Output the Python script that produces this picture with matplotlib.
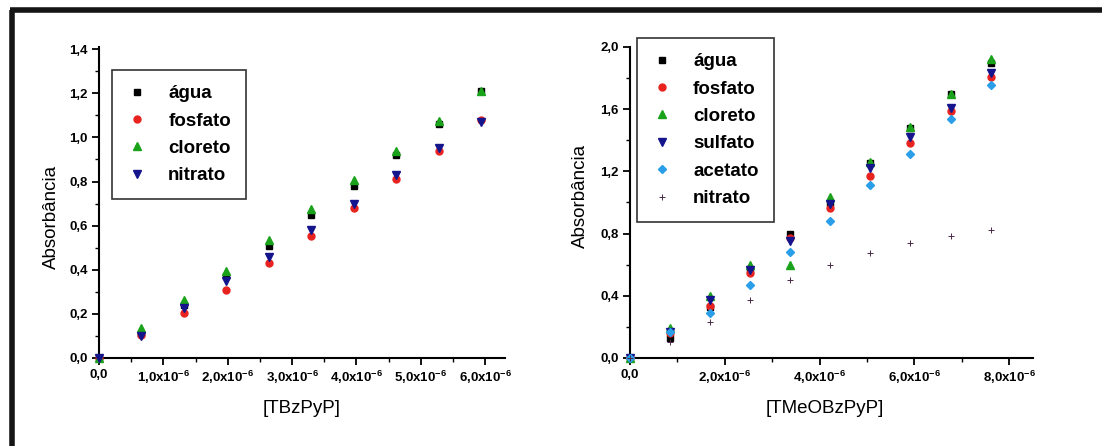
import numpy as np
import matplotlib
matplotlib.use("Agg")
import matplotlib.pyplot as plt
from matplotlib.lines import Line2D
from matplotlib.ticker import MultipleLocator, FuncFormatter

plt.rcParams['font.family'] = ['Liberation Sans', 'DejaVu Sans']
plt.rcParams['mathtext.fontset'] = 'custom'
plt.rcParams['mathtext.rm'] = 'Liberation Sans'
plt.rcParams['mathtext.bf'] = 'Liberation Sans:bold'

# TBzPyP titration (mol/L)
conc_tbz = [0, 0.66e-6, 1.32e-6, 1.98e-6, 2.64e-6, 3.30e-6, 3.96e-6, 4.62e-6, 5.28e-6, 5.94e-6]
tbz_agua = [0, 0.11, 0.24, 0.37, 0.51, 0.65, 0.78, 0.92, 1.06, 1.21]
tbz_fosfato = [0, 0.105, 0.205, 0.31, 0.43, 0.555, 0.68, 0.81, 0.94, 1.08]
tbz_cloreto = [0, 0.135, 0.265, 0.395, 0.535, 0.675, 0.805, 0.94, 1.075, 1.21]
tbz_nitrato = [0, 0.10, 0.225, 0.35, 0.46, 0.58, 0.70, 0.83, 0.95, 1.07]

# TMeOBzPyP titration (mol/L)
conc_tmeo = [0, 0.845e-6, 1.69e-6, 2.535e-6, 3.38e-6, 4.225e-6, 5.07e-6, 5.915e-6, 6.76e-6, 7.605e-6]
tmeo_agua = [0, 0.13, 0.33, 0.57, 0.795, 1.0, 1.255, 1.48, 1.70, 1.895]
tmeo_fosfato = [0, 0.16, 0.335, 0.545, 0.77, 0.965, 1.17, 1.38, 1.59, 1.81]
tmeo_cloreto = [0, 0.195, 0.40, 0.60, 0.60, 1.035, 1.26, 1.485, 1.70, 1.92]
tmeo_sulfato = [0, 0.17, 0.37, 0.565, 0.755, 0.99, 1.225, 1.42, 1.61, 1.83]
tmeo_acetato = [0, 0.17, 0.29, 0.47, 0.68, 0.88, 1.11, 1.315, 1.54, 1.755]
tmeo_nitrato = [0, 0.105, 0.23, 0.37, 0.50, 0.595, 0.675, 0.74, 0.785, 0.825]

RED = '#e8231f'
GREEN = '#1aa31a'
NAVY = '#14148c'
LIGHTBLUE = '#2a9ee8'


def x_fmt(v, pos):
    if abs(v) < 1e-12:
        return '0,0'
    return ('%.1f' % (v * 1e6)).replace('.', ',') + 'x10$^{\\mathbf{-6}}$'


def y_fmt(v, pos):
    return ('%.1f' % v).replace('.', ',')


def style_axes(ax, xmax, xmajor, ymax, ymajor, xlabel, xlab_pos, ylab_pos):
    ax.set_xlim(0, xmax)
    ax.set_ylim(0, ymax)
    for s in ['top', 'right']:
        ax.spines[s].set_visible(False)
    for s in ['left', 'bottom']:
        ax.spines[s].set_linewidth(1.5)
        ax.spines[s].set_zorder(1)
    ax.xaxis.set_major_locator(MultipleLocator(xmajor))
    ax.xaxis.set_minor_locator(MultipleLocator(xmajor / 2))
    ax.yaxis.set_major_locator(MultipleLocator(ymajor))
    ax.yaxis.set_minor_locator(MultipleLocator(ymajor / 2))
    ax.xaxis.set_major_formatter(FuncFormatter(x_fmt))
    ax.yaxis.set_major_formatter(FuncFormatter(y_fmt))
    ax.tick_params(which='major', direction='out', length=5, width=1.3, labelsize=9.5, pad=3)
    ax.tick_params(which='minor', direction='out', length=3, width=1.0)
    for lab in ax.get_xticklabels() + ax.get_yticklabels():
        lab.set_fontweight('bold')
    ax.set_xlabel(xlabel, fontsize=13.5)
    ax.set_ylabel('Absorbância', fontsize=13.5)
    ax.xaxis.set_label_coords(*xlab_pos)
    ax.yaxis.set_label_coords(*ylab_pos)
    ax.xaxis.label.set_verticalalignment('center')
    ax.yaxis.label.set_verticalalignment('center')


fig = plt.figure(figsize=(11.02, 4.46), dpi=100)

# outer frame (left and top edges)
fig.add_artist(Line2D([12 / 1102, 12 / 1102], [0, 1 - 10 / 446], transform=fig.transFigure,
                      color='#151515', lw=4, solid_capstyle='butt'))
fig.add_artist(Line2D([10 / 1102, 1], [1 - 10 / 446, 1 - 10 / 446], transform=fig.transFigure,
                      color='#151515', lw=4, solid_capstyle='butt'))

leg_kw = dict(loc='upper left', numpoints=1, prop={'size': 13.5, 'weight': 'bold'},
              frameon=True, fancybox=False, edgecolor='black', handlelength=1.1,
              handletextpad=1.1, labelspacing=0.55, borderpad=0.8, borderaxespad=0)

ms = 5
ax1 = fig.add_axes([99 / 1102, 88 / 446, 406 / 1102, 311 / 446])
ax1.plot(conc_tbz, tbz_agua, 's', color='black', ms=ms, label='água')
ax1.plot(conc_tbz, tbz_fosfato, 'o', color=RED, ms=ms, label='fosfato')
ax1.plot(conc_tbz, tbz_cloreto, '^', color=GREEN, ms=ms + 0.5, label='cloreto')
ax1.plot(conc_tbz, tbz_nitrato, 'v', color=NAVY, ms=ms + 0.5, label='nitrato')
style_axes(ax1, 6.31e-6, 1e-6, 1.41, 0.2, '[TBzPyP]', (0.5, -0.161), (-0.118, 0.455))
for l in ax1.get_lines():
    l.set_clip_on(False)
leg1 = ax1.legend(bbox_to_anchor=(0.032, 0.926), **leg_kw)
leg1.get_frame().set_linewidth(1.2)

ax2 = fig.add_axes([630 / 1102, 88 / 446, 403 / 1102, 311 / 446])
ax2.plot(conc_tmeo, tmeo_agua, 's', color='black', ms=ms, label='água')
ax2.plot(conc_tmeo, tmeo_fosfato, 'o', color=RED, ms=ms, label='fosfato')
ax2.plot(conc_tmeo, tmeo_cloreto, '^', color=GREEN, ms=ms + 0.5, label='cloreto')
ax2.plot(conc_tmeo, tmeo_sulfato, 'v', color=NAVY, ms=ms + 0.5, label='sulfato')
ax2.plot(conc_tmeo, tmeo_acetato, 'D', color=LIGHTBLUE, ms=ms - 0.5, label='acetato')
ax2.plot(conc_tmeo, tmeo_nitrato, '+', color='#4a2a4a', ms=4, mew=0.7, label='nitrato')
style_axes(ax2, 8.5e-6, 2e-6, 2.0, 0.4, '[TMeOBzPyP]', (0.484, -0.161), (-0.124, 0.52))
for l in ax2.get_lines():
    l.set_clip_on(False)
leg2 = ax2.legend(bbox_to_anchor=(0.017, 1.029), **leg_kw)
leg2.get_frame().set_linewidth(1.2)

fig.savefig('out.png', dpi=100)
